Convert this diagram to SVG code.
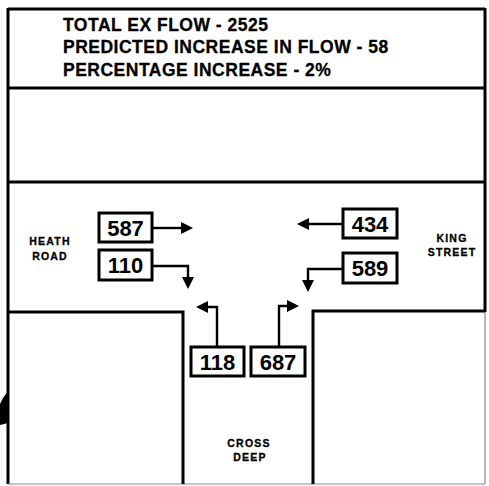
<svg xmlns="http://www.w3.org/2000/svg" width="489" height="486" viewBox="0 0 489 486">
  <style>
    .frame { fill: none; stroke: #000; stroke-width: 3; }
    .thin { fill: none; stroke: #888; stroke-width: 1.2; }
    .box { fill: #fff; stroke: #000; stroke-width: 3; }
    .num { font-family: "Liberation Sans", Arial, sans-serif; font-weight: bold; font-size: 22px; text-anchor: middle; fill: #000; }
    .title { font-family: "Liberation Sans", Arial, sans-serif; font-weight: bold; font-size: 17.5px; letter-spacing: 0.5px; fill: #000; stroke: #000; stroke-width: 0.3; }
    .road { font-family: "Liberation Sans", Arial, sans-serif; font-weight: bold; font-size: 10.5px; letter-spacing: 1.2px; text-anchor: middle; fill: #000; stroke: #000; stroke-width: 0.3; }
    .conn { fill: none; stroke: #000; stroke-width: 2.4; }
    .head { fill: #000; stroke: none; }
  </style>
  <rect width="489" height="486" fill="#fff"/>
  <g id="frame">
    <path class="frame" d="M8,9 H485 M8,88 H485 M8,182 H485"/>
    <path class="frame" d="M8,8 V484"/>
    <path class="frame" d="M485,8 V312" stroke-width="2"/>
    <path class="thin" d="M485,312 V484 M8,484 H485"/>
    <path class="frame" d="M8,312 H183 V484"/>
    <path class="frame" d="M313,484 V311 H485"/>
    <polygon class="head" points="8,391 3,398 0,404 0,425 8,423"/>
  </g>
  <g id="summary">
    <text class="title" x="63" y="31">TOTAL EX FLOW - 2525</text>
    <text class="title" x="63" y="53">PREDICTED INCREASE IN FLOW - 58</text>
    <text class="title" x="63" y="76">PERCENTAGE INCREASE - 2%</text>
  </g>
  <g id="heath-road">
    <text class="road" x="50" y="245">HEATH</text>
    <text class="road" x="50" y="260">ROAD</text>
  </g>
  <g id="king-street">
    <text class="road" x="452" y="242">KING</text>
    <text class="road" x="452" y="256">STREET</text>
  </g>
  <g id="cross-deep">
    <text class="road" x="249" y="447">CROSS</text>
    <text class="road" x="250" y="461">DEEP</text>
  </g>
  <g id="connectors">
    <path class="conn" d="M152,228 H183"/>
    <polygon class="head" points="181,222 181,234 193,228"/>
    <path class="conn" d="M152,266 H188 V279"/>
    <polygon class="head" points="182,277 194,277 188,289"/>
    <path class="conn" d="M343,224 H307"/>
    <polygon class="head" points="309,218 309,230 297,224"/>
    <path class="conn" d="M343,269 H308 V282"/>
    <polygon class="head" points="302,280 314,280 308,292"/>
    <path class="conn" d="M217,348 V307 H206"/>
    <polygon class="head" points="208,301 208,313 196,307"/>
    <path class="conn" d="M279,348 V306 H289"/>
    <polygon class="head" points="287,300 287,312 299,306"/>
  </g>
  <g id="n587">
    <rect class="box" x="99" y="213" width="53" height="29"/>
    <text class="num" x="125.5" y="235.5">587</text>
  </g>
  <g id="n110">
    <rect class="box" x="99" y="250" width="53" height="30"/>
    <text class="num" x="125.5" y="273">110</text>
  </g>
  <g id="n434">
    <rect class="box" x="343" y="209" width="54" height="29"/>
    <text class="num" x="370" y="231.5">434</text>
  </g>
  <g id="n589">
    <rect class="box" x="343" y="253" width="54" height="30"/>
    <text class="num" x="370" y="276">589</text>
  </g>
  <g id="n118">
    <rect class="box" x="191" y="347" width="53" height="29"/>
    <text class="num" x="217.5" y="369.5">118</text>
  </g>
  <g id="n687">
    <rect class="box" x="251" y="347" width="54" height="29"/>
    <text class="num" x="278" y="369.5">687</text>
  </g>
</svg>
